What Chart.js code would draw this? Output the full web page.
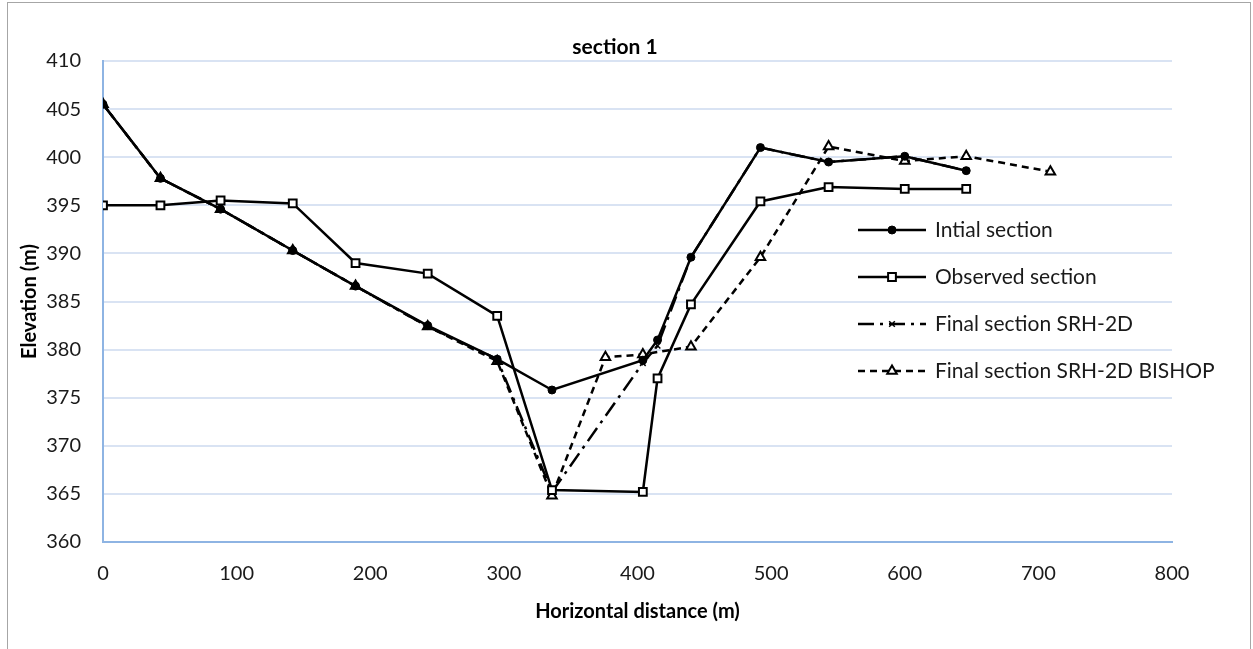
<!DOCTYPE html>
<html>
<head>
<meta charset="utf-8">
<script src="https://cdn.jsdelivr.net/npm/chart.js@4.4.1/dist/chart.umd.min.js"></script>
<style>
  html, body { margin: 0; padding: 0; background: #fff; }
  #wrap { position: relative; width: 1253px; height: 649px; }
  #frame { position: absolute; left: 7px; top: 2px; width: 1242px; height: 660px; border: 1px solid #a6a6a6; pointer-events: none; }
</style>
</head>
<body>
<div id="wrap">
  <canvas id="myChart" width="1253" height="649"></canvas>
  <div id="frame"></div>
</div>
<script>
// distances (m) and elevations (m)
var distInitial = [0, 43, 88, 142, 189, 243, 295, 336, 404, 415, 440, 492, 543, 600, 646];
var elevInitial = [405.5, 397.8, 394.6, 390.3, 386.6, 382.5, 379.0, 375.8, 378.9, 381.0, 389.6, 401.0, 399.5, 400.1, 398.6];

var distObserved = [0, 43, 88, 142, 189, 243, 295, 336, 404, 415, 440, 492, 543, 600, 646];
var elevObserved = [395.0, 395.0, 395.5, 395.2, 389.0, 387.9, 383.5, 365.4, 365.2, 377.0, 384.7, 395.4, 396.9, 396.7, 396.7];

var distSrh = [0, 43, 88, 142, 189, 243, 295, 336, 404, 415, 440, 492, 543, 600, 646];
var elevSrh = [405.5, 397.8, 394.6, 390.3, 386.6, 382.4, 379.0, 365.2, 378.6, 380.4, 389.6, 401.0, 399.5, 400.1, 398.6];

var distBishop = [0, 43, 88, 142, 189, 243, 295, 336, 376, 404, 440, 492, 543, 600, 646, 709];
var elevBishop = [405.5, 397.8, 394.6, 390.3, 386.6, 382.4, 378.8, 364.8, 379.2, 379.5, 380.3, 389.6, 401.1, 399.6, 400.1, 398.5];

var seriesNames = ['Intial section', 'Observed section', 'Final section SRH-2D', 'Final section SRH-2D BISHOP'];
var chartTitle = 'section 1';

function toPoints(xs, ys) {
    return xs.map(function (x, i) { return { x: x, y: ys[i] }; });
}

var FONT = 'Lato, "Open Sans", sans-serif';

// title and legend drawn by hand, legend sits inside the plot on the right
var insideLegend = {
    id: 'insideLegend',
    afterDraw: function (chart) {
        var ctx = chart.ctx;
        var rows = [230, 277, 324, 371];
        ctx.save();
        ctx.fillStyle = '#000';
        ctx.font = 'bold 21px ' + FONT;
        ctx.textAlign = 'center';
        ctx.textBaseline = 'middle';
        ctx.fillText(chartTitle, 615, 47);

        chart.data.datasets.forEach(function (ds, i) {
            var y = rows[i];
            ctx.strokeStyle = '#000';
            ctx.lineWidth = ds.borderWidth;
            ctx.setLineDash(ds.borderDash || []);
            ctx.beginPath();
            ctx.moveTo(858, y);
            ctx.lineTo(926, y);
            ctx.stroke();
            ctx.setLineDash([]);
            ctx.fillStyle = ds.pointBackgroundColor;
            ctx.strokeStyle = '#000';
            ctx.lineWidth = ds.pointBorderWidth;
            Chart.helpers.drawPoint(ctx, { pointStyle: ds.pointStyle, radius: ds.pointRadius, borderWidth: ds.pointBorderWidth, rotation: 0 }, 892, y);
            ctx.fillStyle = '#1a1a1a';
            ctx.font = '21px ' + FONT;
            ctx.textBaseline = 'middle';
            ctx.textAlign = 'left';
            ctx.fillText(ds.label, 935, y);
        });
        ctx.restore();
    }
};

var ctx = document.getElementById('myChart').getContext('2d');
var chart = new Chart(ctx, {
    type: 'scatter',
    data: {
        datasets: [
        {
            label: seriesNames[0],
            data: toPoints(distInitial, elevInitial),
            showLine: true,
            borderColor: '#000',
            borderWidth: 2.5,
            pointStyle: 'circle',
            pointRadius: 4,
            pointBackgroundColor: '#000',
            pointBorderColor: '#000',
            pointBorderWidth: 1
        },
        {
            label: seriesNames[1],
            data: toPoints(distObserved, elevObserved),
            showLine: true,
            borderColor: '#000',
            borderWidth: 2.5,
            pointStyle: 'rect',
            pointRadius: 5.5,
            pointBackgroundColor: '#fff',
            pointBorderColor: '#000',
            pointBorderWidth: 2
        },
        {
            label: seriesNames[2],
            data: toPoints(distSrh, elevSrh),
            showLine: true,
            borderColor: '#000',
            borderWidth: 2.5,
            borderDash: [16, 6, 3, 6],
            pointStyle: 'crossRot',
            pointRadius: 4,
            pointBackgroundColor: '#000',
            pointBorderColor: '#000',
            pointBorderWidth: 1.5
        },
        {
            label: seriesNames[3],
            data: toPoints(distBishop, elevBishop),
            showLine: true,
            borderColor: '#000',
            borderWidth: 2.5,
            borderDash: [7, 5],
            pointStyle: 'triangle',
            pointRadius: 5.5,
            pointBackgroundColor: '#fff',
            pointBorderColor: '#000',
            pointBorderWidth: 2
        }
      ]
    },
    options: {
        responsive: false,
        animation: false,
        layout: { padding: { top: 61, left: 8, right: 81, bottom: 0 } },
        plugins: {
            legend: { display: false },
            tooltip: { enabled: false },
            title: { display: false }
        },
        scales: {
            x: {
                type: 'linear',
                min: 0,
                max: 800,
                ticks: { stepSize: 100, color: '#1a1a1a', font: { family: FONT, size: 20 }, padding: 20, maxRotation: 0 },
                grid: { display: false, drawTicks: false },
                border: { display: true, color: '#8eb4e3', width: 2 },
                title: {
                    display: true,
                    text: 'Horizontal distance (m)',
                    color: '#000',
                    font: { family: FONT, size: 20, weight: 'bold' },
                    padding: { top: 0, bottom: 25 }
                },
                afterFit: function (s) { s.height = 107; }
            },
            y: {
                min: 360,
                max: 410,
                ticks: { stepSize: 5, color: '#1a1a1a', font: { family: FONT, size: 20 }, padding: 22 },
                grid: { color: '#d9e3f3', lineWidth: 2, drawTicks: false },
                border: { display: true, color: '#8eb4e3', width: 2 },
                title: {
                    display: true,
                    text: 'Elevation (m)',
                    color: '#000',
                    font: { family: FONT, size: 20, weight: 'bold' },
                    padding: { top: 10, bottom: 0 }
                },
                afterFit: function (s) { s.width = 95; }
            }
        }
    },
    plugins: [insideLegend]
});
</script>
</body>
</html>
